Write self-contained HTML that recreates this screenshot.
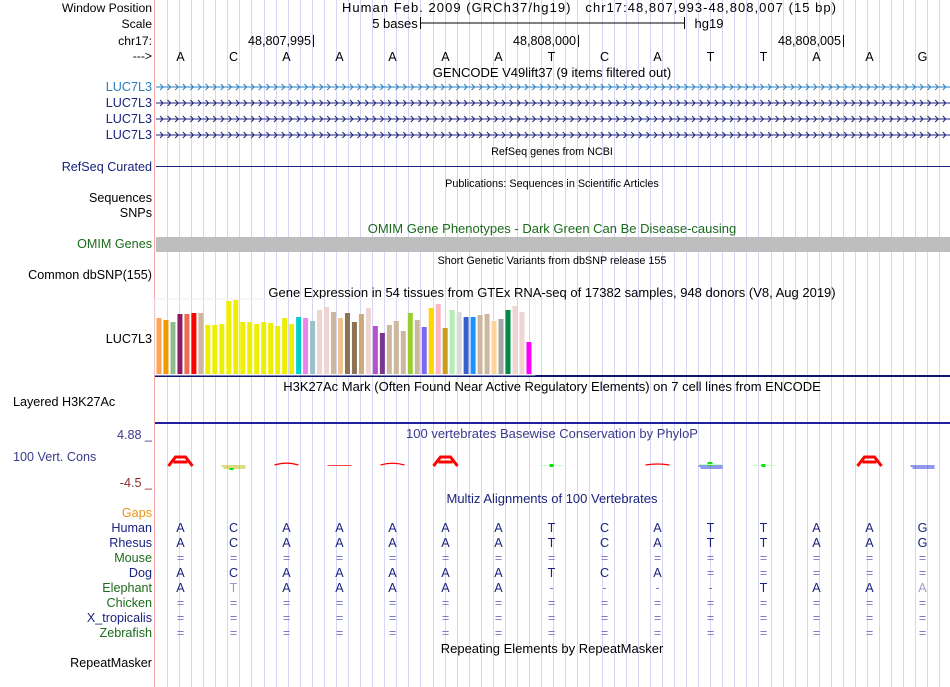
<!DOCTYPE html>
<html><head><meta charset="utf-8"><style>
html,body{margin:0;padding:0;background:#fff;}
svg{display:block;font-family:"Liberation Sans",sans-serif;}
</style></head><body>
<svg id="c" width="950" height="687" viewBox="0 0 950 687">
<g id="grid"></g>
<line x1="154.5" y1="0" x2="154.5" y2="687" stroke="#f4a6a6" stroke-width="1"/>
<g id="labels" font-size="12.6" text-anchor="end">
<text x="152" y="12" font-size="12.2" fill="#000">Window Position</text>
<text x="152" y="28" font-size="12.2" fill="#000">Scale</text>
<text x="152" y="45" font-size="12.2" fill="#000">chr17:</text>
<text x="152" y="60" font-size="12.2" fill="#000">---&gt;</text>
<text x="152" y="91" fill="#2a7fc0">LUC7L3</text>
<text x="152" y="107" fill="#1a237e">LUC7L3</text>
<text x="152" y="123" fill="#1a237e">LUC7L3</text>
<text x="152" y="139" fill="#1a237e">LUC7L3</text>
<text x="152" y="171" fill="#1a237e">RefSeq Curated</text>
<text x="152" y="202" fill="#000">Sequences</text>
<text x="152" y="217" fill="#000">SNPs</text>
<text x="152" y="248" fill="#1b6b1b">OMIM Genes</text>
<text x="152" y="279" fill="#000">Common dbSNP(155)</text>
<text x="152" y="343" fill="#000">LUC7L3</text>
<text x="13" y="406" fill="#000" text-anchor="start">Layered H3K27Ac</text>
<text x="152" y="439" fill="#3a3a8c">4.88 _</text>
<text x="13" y="461" fill="#3a3a8c" text-anchor="start">100 Vert. Cons</text>
<text x="152" y="487" fill="#8c2a2a">-4.5 _</text>
<text x="152" y="517" fill="#e6941a">Gaps</text>
<text x="152" y="532" fill="#1a237e">Human</text>
<text x="152" y="547" fill="#1a237e">Rhesus</text>
<text x="152" y="562" fill="#1b6b1b">Mouse</text>
<text x="152" y="577" fill="#1a237e">Dog</text>
<text x="152" y="592" fill="#1b6b1b">Elephant</text>
<text x="152" y="607" fill="#1b6b1b">Chicken</text>
<text x="152" y="622" fill="#1a237e">X_tropicalis</text>
<text x="152" y="637" fill="#1b6b1b">Zebrafish</text>
<text x="152" y="667" fill="#000">RepeatMasker</text>
</g>
<g font-size="13" text-anchor="middle">
<text x="342" y="12" fill="#000" text-anchor="start" textLength="494" xml:space="preserve">Human Feb. 2009 (GRCh37/hg19)   chr17:48,807,993-48,808,007 (15 bp)</text>
<text x="395" y="28" fill="#000">5 bases</text>
<text x="709" y="28" fill="#000">hg19</text>
<text x="552" y="77" fill="#000">GENCODE V49lift37 (9 items filtered out)</text>
<text x="552" y="155" fill="#000" font-size="10.8">RefSeq genes from NCBI</text>
<text x="552" y="187" fill="#000" font-size="10.8">Publications: Sequences in Scientific Articles</text>
<text x="552" y="233" fill="#1b6b1b">OMIM Gene Phenotypes - Dark Green Can Be Disease-causing</text>
<text x="552" y="264" fill="#000" font-size="10.8">Short Genetic Variants from dbSNP release 155</text>
<text x="552" y="297" fill="#000">Gene Expression in 54 tissues from GTEx RNA-seq of 17382 samples, 948 donors (V8, Aug 2019)</text>
<text x="552" y="391" fill="#000">H3K27Ac Mark (Often Found Near Active Regulatory Elements) on 7 cell lines from ENCODE</text>
<text x="552" y="438" fill="#3a3a8c">100 vertebrates Basewise Conservation by PhyloP</text>
<text x="552" y="503" fill="#1a237e">Multiz Alignments of 100 Vertebrates</text>
<text x="552" y="653" fill="#000">Repeating Elements by RepeatMasker</text>
</g>
<g stroke="#000">
<line x1="420.5" y1="17" x2="420.5" y2="29"/><line x1="684.5" y1="17" x2="684.5" y2="29"/><line x1="420" y1="23" x2="684" y2="23"/>
<line x1="313.5" y1="35" x2="313.5" y2="47"/><line x1="578.5" y1="35" x2="578.5" y2="47"/><line x1="843.5" y1="35" x2="843.5" y2="47"/>
</g>
<g font-size="12.6" text-anchor="end" fill="#000">
<text x="311" y="45">48,807,995</text><text x="576" y="45">48,808,000</text><text x="841" y="45">48,808,005</text>
</g>
<rect x="156" y="237" width="794" height="15" fill="#bebebe"/>
<line x1="156" y1="166.5" x2="950" y2="166.5" stroke="#1a237e"/>
<rect x="155" y="375" width="795" height="2" fill="#0c1470"/>
<rect x="155" y="422" width="795" height="2" fill="#2020a0"/>
<g id="genes"></g>
<g id="bases"></g>
<g id="bars"></g>
<g id="cons"></g>
<g id="align" font-size="12.6" text-anchor="middle"></g>
</svg>
<script>
var NS="http://www.w3.org/2000/svg";
var bases=["A","C","A","A","A","A","A","T","C","A","T","T","A","A","G"];
var rhesus=["A","C","A","A","A","A","A","T","C","A","T","T","A","A","G"];
var dog=["A","C","A","A","A","A","A","T","C","A","=","=","=","=","="];
var elephant=["A","T","A","A","A","A","A","-","-","-","-","T","A","A","A"];
var gtexValues=[56,54,52,60,60,61,61,49,49,50,73,74,52,52,50,52,51,48,56,50,57,56,53,64,67,62,56,61,52,60,66,48,41,49,53,43,61,54,47,66,70,46,64,62,57,57,59,60,53,55,64,68,62,32];
var gtexColors=["#ffa54f","#ee9a00","#8fbc8f","#8b1c62","#ee6a50","#ff0000","#cdb79e","#eeee00","#eeee00","#eeee00","#eeee00","#eeee00","#eeee00","#eeee00","#eeee00","#eeee00","#eeee00","#eeee00","#eeee00","#eeee00","#00cdcd","#ee82ee","#9ac0cd","#eed5d2","#eed5d2","#cdb79e","#eec591","#8b7355","#8b7355","#cdaa7d","#eed5d2","#b452cd","#7a378b","#cdb79e","#cdb79e","#cdb79e","#9acd32","#cdb79e","#7b68ee","#ffd700","#ffb6c1","#cd9b1d","#b4eeb4","#d9d9d9","#3a5fcd","#1e90ff","#cdb79e","#cdb79e","#ffd39b","#a6a6a6","#008b45","#eed5d2","#eed5d2","#ff00ff"];
var phyloP=[4.5,-0.6,1.5,0.2,1.4,4.5,0,0.05,0,0.8,-0.3,0.05,0,4.5,-0.3];
function mk(t,a,p){var e=document.createElementNS(NS,t);for(var k in a)e.setAttribute(k,a[k]);(p||document.getElementById('c')).appendChild(e);return e;}
var x0=155,bw=53;
function bx(i){return x0+bw*i+26.5;}
var g=document.getElementById('grid');
for(var x=167;x<950;x+=12.07){var l=mk('line',{x1:Math.round(x)+.5,y1:0,x2:Math.round(x)+.5,y2:687,stroke:'#d6d6f2'},g);

}
var bg=document.getElementById('bases');
bases.forEach(function(b,i){var t=mk('text',{x:bx(i)-1,y:61,'font-size':12.6,'text-anchor':'middle',fill:'#000'},bg);t.textContent=b;

});
var gg=document.getElementById('genes');
[[87,'#2a7fc0'],[103,'#1a237e'],[119,'#1a237e'],[135,'#1a237e']].forEach(function(r){
var d='M156 '+r[0]+' H950';
for(var x=160;x<950;x+=7.6){d+=' M'+x.toFixed(1)+' '+(r[0]-3)+' l3 3 l-3 3';}
var p=mk('path',{d:d,stroke:r[1],fill:'none','stroke-width':1},gg);

});
var brg=document.getElementById('bars');
mk('rect',{x:155,y:299,width:380,height:76,fill:'none',stroke:'#eeeef8'},brg);
var base=374,sc=1.0;
gtexValues.forEach(function(v,i){var r=mk('rect',{x:156.5+i*6.98,y:base-v*sc,width:5,height:v*sc,fill:gtexColors[i]},brg);

});
var cg=document.getElementById('cons');
var cy=466;
phyloP.forEach(function(v,i){var cx=bx(i)-1,p;
if(v>=4){p=mk('path',{d:'M'+(cx-12)+' '+cy+' L'+(cx-5)+' '+(cy-9)+' L'+(cx+5)+' '+(cy-9)+' L'+(cx+12)+' '+cy+' M'+(cx-7)+' '+(cy-4)+' H'+(cx+7),stroke:'#f00','stroke-width':3,fill:'none'},cg);}
else if(v>0.5){p=mk('path',{d:'M'+(cx-12)+' '+(cy-1)+' Q'+cx+' '+(cy-1-v*2.5)+' '+(cx+12)+' '+(cy-1),stroke:'#f00','stroke-width':1.2,fill:'none'},cg);}
else if(v>=0.1){p=mk('rect',{x:cx-12,y:cy-1,width:24,height:1,fill:'#f44'},cg);}
else if(v>0){p=mk('rect',{x:cx-12,y:cy-1,width:24,height:1,fill:'#c8ffc8'},cg);mk('rect',{x:cx-2,y:cy-2,width:4,height:3,fill:'#11dd11'},cg);}
else if(v<0){var col=(i==1)?'#b8b800':'#2233dd';
p=mk('path',{d:'M'+(cx-12)+' '+cy+' H'+(cx+12)+' M'+(cx-10)+' '+(cy+2)+' H'+(cx+12),stroke:col,'stroke-width':1,fill:'none'},cg);
if(i==1)mk('rect',{x:cx-4,y:cy+2,width:4,height:2,fill:'#11dd11'},cg);
if(i==10){mk('rect',{x:cx-3,y:cy-4,width:5,height:4,fill:'#11dd11'},cg);mk('rect',{x:cx-12,y:cy-2,width:24,height:1,fill:'#c8ffc8'},cg);}}
if(p){}
});
var ag=document.getElementById('align');
function row(arr,y,col){arr.forEach(function(b,i){var c=col;if(b==='='||b==='-')c='#7b7bc8';var t=mk('text',{x:bx(i)-1,y:y,fill:c},ag);t.textContent=b;

});}
var eq=bases.map(function(){return '=';});
row(bases,532,'#1a237e');row(rhesus,547,'#1a237e');row(eq,562,'#1a237e');row(dog,577,'#1a237e');
row(elephant,592,'#1a237e');row(eq,607,'#1a237e');row(eq,622,'#1a237e');row(eq,637,'#1a237e');
var el=ag.querySelectorAll('text');el[4*15+1].setAttribute('fill','#9a9ac8');el[4*15+14].setAttribute('fill','#9a9ac8');
</script>
</body></html>
